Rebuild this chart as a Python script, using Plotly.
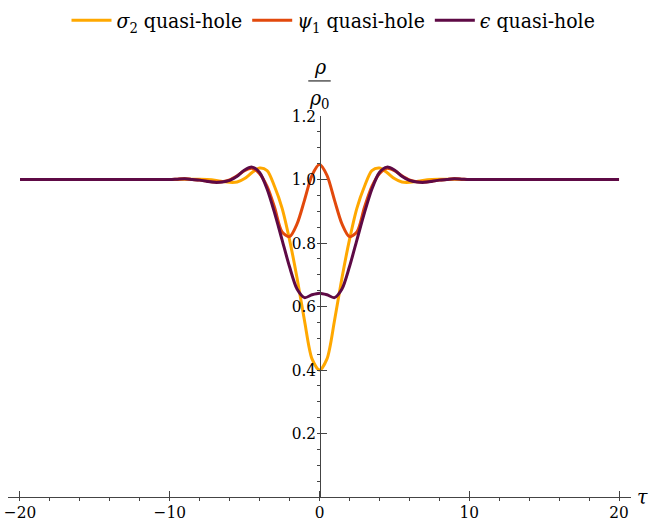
import plotly.graph_objects as go

tau = [-20, -15, -12, -10, -9.5, -9, -8.5, -8, -7.5, -7, -6.5, -6, -5.5, -5, -4.5, -4,
       -3.5, -3, -2.5, -2, -1.5, -1, -0.5, 0, 0.5, 1, 1.5, 2, 2.5, 3, 3.5, 4, 4.5,
       5, 5.5, 6, 6.5, 7, 7.5, 8, 8.5, 9, 9.5, 10, 12, 15, 20]

sigma2 = [1.0, 1.0, 1.0, 1.0, 1.0, 1.001, 1.001, 1.001, 1.0, 0.998, 0.994, 0.991, 0.992, 1.003,
          1.022, 1.036, 1.028, 0.978, 0.91, 0.81, 0.69, 0.555, 0.435, 0.40, 0.435, 0.555,
          0.69, 0.81, 0.91, 0.978, 1.028, 1.036, 1.022, 1.003, 0.992, 0.991, 0.994, 0.998,
          1.0, 1.001, 1.001, 1.001, 1.0, 1.0, 1.0, 1.0, 1.0]

psi1 = [1.0, 1.0, 1.0, 1.0, 1.001, 1.002, 1.0, 0.998, 0.995, 0.992, 0.993, 0.999, 1.012, 1.028,
        1.035, 1.018, 0.978, 0.912, 0.835, 0.82, 0.86, 0.935, 1.013, 1.047, 1.013, 0.935,
        0.86, 0.82, 0.835, 0.912, 0.978, 1.018, 1.035, 1.028, 1.012, 0.999, 0.993, 0.992,
        0.995, 0.998, 1.0, 1.002, 1.001, 1.0, 1.0, 1.0, 1.0]

eps = [1.0, 1.0, 1.0, 1.0, 1.001, 1.002, 1.0, 0.998, 0.994, 0.991, 0.992, 0.997, 1.01, 1.03,
       1.039, 1.022, 0.97, 0.895, 0.81, 0.725, 0.655, 0.628, 0.637, 0.642, 0.637, 0.628,
       0.655, 0.725, 0.81, 0.895, 0.97, 1.022, 1.039, 1.03, 1.01, 0.997, 0.992, 0.991,
       0.994, 0.998, 1.0, 1.002, 1.001, 1.0, 1.0, 1.0, 1.0]

names = ["<i>σ</i><sub>2</sub> quasi-hole", "<i>ψ</i><sub>1</sub> quasi-hole", "<i>ϵ</i> quasi-hole"]
colors = ["#FFA800", "#E2490C", "#5E0A45"]

FONT = "DejaVu Serif Condensed, DejaVu Serif"

fig = go.Figure()
for ys, name, col in zip([sigma2, psi1, eps], names, colors):
    fig.add_trace(go.Scatter(x=tau, y=ys, mode="lines", name=name,
                             line=dict(color=col, width=3, shape="spline", smoothing=0.8)))

axis_col = "#444444"
fig.update_layout(
    width=667, height=525,
    margin=dict(l=8, r=36, t=116, b=28, autoexpand=False),
    plot_bgcolor="white", paper_bgcolor="white",
    font=dict(family=FONT, size=17, color="black"),
    legend=dict(orientation="h", xref="container", yref="container",
                x=0.5, xanchor="center", y=1.0, yanchor="top",
                font=dict(size=21), itemwidth=40),
    xaxis=dict(range=[-20.8, 20.8], showgrid=False, zeroline=False,
               showline=True, linecolor=axis_col, linewidth=1,
               ticks="inside", ticklen=6, tickcolor=axis_col,
               tick0=0, dtick=10, ticklabeloverflow="allow",
               minor=dict(dtick=2, tick0=0, ticklen=3, tickcolor=axis_col, showgrid=False)),
    yaxis=dict(range=[0, 1.2], showgrid=False, zeroline=False,
               anchor="free", position=0.5,
               showline=True, linecolor=axis_col, linewidth=1,
               ticks="inside", ticklen=6, tickcolor=axis_col,
               tickvals=[0.2, 0.4, 0.6, 0.8, 1.0, 1.2],
               ticktext=["0.2", "0.4", "0.6", "0.8", "1.0", "1.2"],
               minor=dict(dtick=0.05, tick0=0, ticklen=3, tickcolor=axis_col, showgrid=False)),
)

# axis labels (plot area is 381 px tall)
fig.add_annotation(x=0, y=1.129, xref="x", yref="paper", yanchor="middle", text="<i>ρ</i>",
                   showarrow=False, font=dict(size=21))
fig.add_annotation(x=0, y=1.045, xref="x", yref="paper", yanchor="middle",
                   text="<i>ρ</i><sub>0</sub>", showarrow=False, font=dict(size=21))
fig.add_shape(type="line", xref="x", yref="paper", x0=-0.75, x1=0.75, y0=1.092, y1=1.092,
              line=dict(color="black", width=1))
fig.add_annotation(x=1.0305, y=0, xref="paper", yref="paper", yanchor="middle", text="<i>τ</i>",
                   showarrow=False, font=dict(size=21))

# drop the default 8px page margin so the figure sits at the window corner
fig.write_html("out.html", config={"displayModeBar": False},
               post_script="document.body.style.margin='0px';")
